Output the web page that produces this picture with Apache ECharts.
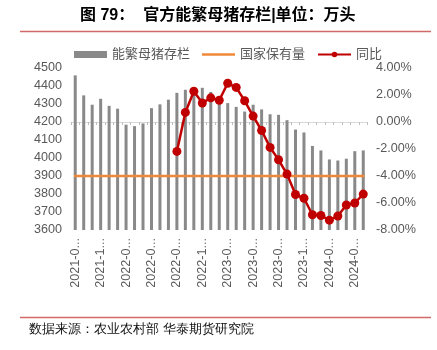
<!DOCTYPE html>
<html>
<head>
<meta charset="utf-8">
<script src="https://cdn.jsdelivr.net/npm/echarts@6/dist/echarts.min.js"></script>
<style>
html,body{margin:0;padding:0;background:#fff;}
#c{width:437px;height:350px;}
</style>
</head>
<body>
<div id="c"></div>
<script>
const categories = ['2021-09','2021-10','2021-11','2021-12','2022-01','2022-02','2022-03','2022-04','2022-05','2022-06','2022-07','2022-08','2022-09','2022-10','2022-11','2022-12','2023-01','2023-02','2023-03','2023-04','2023-05','2023-06','2023-07','2023-08','2023-09','2023-10','2023-11','2023-12','2024-01','2024-02','2024-03','2024-04','2024-05','2024-06','2024-07'];
const sowStock = [4459,4348,4296,4329,4290,4274,4185,4177,4192,4277,4298,4324,4362,4379,4394,4390,4367,4343,4305,4284,4258,4296,4270,4243,4240,4210,4158,4142,4067,4042,3992,3986,3996,4038,4042];
const yoyPct = [null,null,null,null,null,null,null,null,null,null,null,null,-2.18,0.71,2.28,1.41,1.79,1.61,2.87,2.56,1.57,0.44,-0.63,-1.88,-2.80,-3.86,-5.37,-5.65,-6.87,-6.93,-7.27,-6.96,-6.15,-6.00,-5.34];
const holdingTarget = 3900;
const seriesNames = ['能繁母猪存栏','国家保有量','同比'];
const titleText = '图 79：  官方能繁母猪存栏|单位：万头';
const sourceText = '数据来源：农业农村部 华泰期货研究院';

const FONT = '"Liberation Sans", Arial, "Noto Sans CJK SC", sans-serif';
const chart = echarts.init(document.getElementById('c'), null, {renderer:'canvas'});
chart.setOption({
  backgroundColor:'#fff',
  animation:false,
  textStyle:{fontFamily:FONT},
  title:{
    text:titleText, left:75, top:3,
    textStyle:{fontSize:16, fontWeight:'bold', color:'#000', fontFamily:FONT}
  },
  graphic:[
    {type:'line', shape:{x1:20,y1:31.5,x2:431,y2:31.5}, style:{stroke:'#D26A6A', lineWidth:1.5}},
    {type:'line', shape:{x1:20,y1:317.5,x2:431,y2:317.5}, style:{stroke:'#D26A6A', lineWidth:1.5}},
    {type:'text', left:29, top:323, style:{text:sourceText, fontSize:13, fill:'#111', font:'13px ' + FONT}}
  ],
  legend:{
    left:69, top:43, itemGap:12, itemWidth:33, itemHeight:7,
    textStyle:{fontSize:13, color:'#595959', fontFamily:FONT},
    data:[
      {name:seriesNames[0], icon:'rect'},
      {name:seriesNames[1], icon:'path://M0,0L34,0L34,2.6L0,2.6Z'},
      {name:seriesNames[2]}
    ]
  },
  grid:{left:71, right:69.5, top:68, bottom:120, containLabel:false},
  xAxis:{
    type:'category', data:categories, boundaryGap:true,
    axisLine:{show:true, lineStyle:{color:'#D9D9D9', width:1}},
    axisTick:{show:true, interval:0, length:3, lineStyle:{color:'#BFBFBF'}},
    axisLabel:{
      interval:2, rotate:90, margin:8, fontSize:12.6, color:'#595959',
      formatter:v=>v.slice(0,6)+'...'
    }
  },
  yAxis:[
    {type:'value', min:3600, max:4500, interval:100,
     axisLine:{show:false}, axisTick:{show:false}, splitLine:{show:false},
     axisLabel:{fontSize:12.6, color:'#595959', margin:9, formatter:v=>String(v)}},
    {type:'value', min:-8, max:4, interval:2,
     axisLine:{show:false}, axisTick:{show:false}, splitLine:{show:false},
     axisLabel:{fontSize:12.6, color:'#595959', margin:8.5, formatter:v=>v.toFixed(2)+'%'}}
  ],
  series:[
    {name:seriesNames[0], type:'bar', data:sowStock, barWidth:3,
     itemStyle:{color:'#898989'}},
    {name:seriesNames[1], type:'line', data:categories.map(()=>holdingTarget),
     symbol:'none', lineStyle:{color:'#F0883A', width:2.5, cap:'square'}, itemStyle:{color:'#F0883A'}},
    {name:seriesNames[2], type:'line', yAxisIndex:1, data:yoyPct,
     symbol:'circle', symbolSize:9, showSymbol:true, showAllSymbol:true,
     lineStyle:{color:'#C00000', width:2.5}, itemStyle:{color:'#C00000'}}
  ]
});
</script>
</body>
</html>
